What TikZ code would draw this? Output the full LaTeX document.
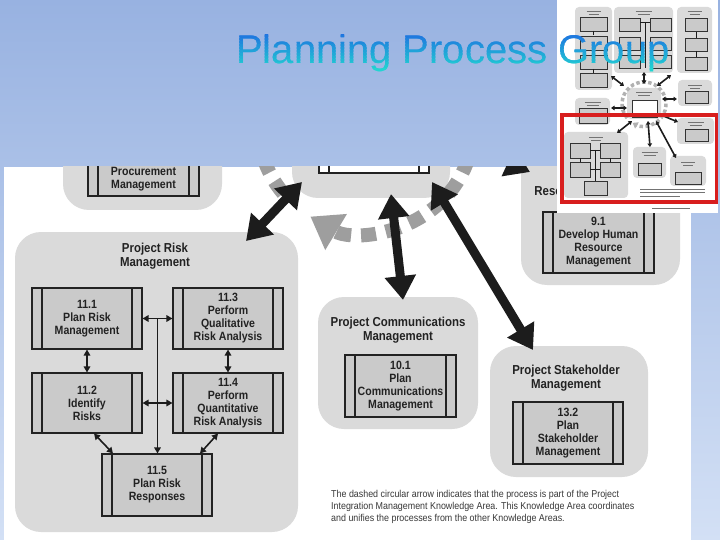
\documentclass[tikz,border=0pt]{standalone}
\usepackage{fontspec}
\setmainfont{Liberation Sans}
\newfontfamily\dgfont[FakeStretch=0.88]{Liberation Sans}
\newfontfamily\dgcapfont[FakeStretch=0.89]{Liberation Sans}
\usetikzlibrary{arrows.meta,calc}
\definecolor{bgtop}{HTML}{98B2E1}
\definecolor{bgbot}{HTML}{D3E0F5}
\definecolor{areagray}{HTML}{DADADA}
\definecolor{procgray}{HTML}{CACACA}
\definecolor{inkdark}{HTML}{222222}
\definecolor{arrowblk}{HTML}{1C1C1C}
\definecolor{dashgray}{HTML}{9E9E9E}
\definecolor{tblue}{HTML}{1E72E0}
\definecolor{tcyan}{HTML}{22DCD0}
\definecolor{framered}{HTML}{D81E1E}
\newcommand\dgboxfont{\dgfont\bfseries\fontsize{12}{13}\selectfont}
\newcommand\dgtitlefont{\dgfont\bfseries\fontsize{13}{14}\selectfont}
\begin{document}
\begin{tikzpicture}[x=1pt,y=-1pt,
  area/.style={fill=areagray, rounded corners=26pt, inner sep=0, draw=none},
  proc/.style={draw=inkdark, line width=1.1pt, fill=procgray, minimum width=110, minimum height=61,
    inner sep=0, align=center, font=\dgboxfont, text=inkdark,
    path picture={\draw[line width=1.1pt, inkdark]
      ([xshift=10pt]path picture bounding box.north west) -- ([xshift=10pt]path picture bounding box.south west)
      ([xshift=-10pt]path picture bounding box.north east) -- ([xshift=-10pt]path picture bounding box.south east);}},
  areatitle/.style={align=center, font=\dgtitlefont, text=inkdark, inner sep=0},
  bigarrow/.style={arrowblk, line width=9pt,
    {Triangle[length=24pt,width=30pt]}-{Triangle[length=24pt,width=30pt]}},
  onearrow/.style={arrowblk, line width=9pt, -{Triangle[length=24pt,width=30pt]}},
  smallarrow/.style={arrowblk, line width=1.6pt,
    {Triangle[length=6pt,width=6.5pt]}-{Triangle[length=6pt,width=6.5pt]}},
  ttl/.style={anchor=base west, inner sep=0, font=\fontsize{40}{44}\selectfont},
  tharea/.style={fill=areagray, rounded corners=4pt},
  thproc/.style={fill=procgray, draw=black!80, line width=0.4pt},
  tharrow/.style={arrowblk, line width=1.6pt,
    {Triangle[length=3.5pt,width=4.5pt]}-{Triangle[length=3.5pt,width=4.5pt]}},
  thtext/.style={black!55, line width=0.7pt}]
\useasboundingbox (0,0) rectangle (720,540);
\shade[top color=bgtop, bottom color=bgbot] (0,0) rectangle (720,540);

% ---------------- main diagram (cropped picture) ----------------
\begin{scope}
\clip (4,167) rectangle (691,540);
\fill[white] (4,167) rectangle (691,540);

% knowledge-area panels
\node[area, minimum width=159, minimum height=100] (procA) at (142.5,160) {};
\node[area, minimum width=158, minimum height=108] (intA) at (371,144) {};
\node[area, minimum width=159, minimum height=155] (hrA) at (600.5,207.5) {};
\node[area, minimum width=283, minimum height=300] (riskA) at (156.5,382) {};
\node[area, minimum width=160, minimum height=132] (commA) at (398,363) {};
\node[area, minimum width=158, minimum height=131] (stakeA) at (569,411.5) {};

% panel titles
\node[areatitle] (hrT) at (597,185.5) {Project Human\\Resource Management};
\node[areatitle] (riskT) at (155,256.5) {Project Risk\\Management};
\node[areatitle] (commT) at (398,330.5) {Project Communications\\Management};
\node[areatitle] (stakeT) at (566,378) {Project Stakeholder\\Management};

% processes
\node[proc, minimum width=111] (pProc) at (143.5,165.5) {};
\node[areatitle, font=\dgboxfont] (pProcT) at (143.5,179) {Procurement\\Management};
\node[proc, fill=white] (pInt) at (374,142.5) {};
\node[proc, minimum width=111] (p91) at (598.5,242.5) {9.1\\Develop Human\\Resource\\Management};
\node[proc] (p111) at (87,318.5) {11.1\\Plan Risk\\Management};
\node[proc] (p113) at (228,318.5) {11.3\\Perform\\Qualitative\\Risk Analysis};
\node[proc, minimum height=60] (p112) at (87,403) {11.2\\Identify\\Risks};
\node[proc, minimum height=60] (p114) at (228,403) {11.4\\Perform\\Quantitative\\Risk Analysis};
\node[proc, minimum height=62] (p115) at (157,485) {11.5\\Plan Risk\\Responses};
\node[proc, minimum width=111, minimum height=62] (p101) at (400.5,386) {10.1\\Plan\\Communications\\Management};
\node[proc, minimum height=62] (p132) at (568,433) {13.2\\Plan\\Stakeholder\\Management};

% risk-internal connectors
\draw[smallarrow] (p111.east) -- (p113.west);
\draw[smallarrow] (p112.east) -- (p114.west);
\draw[smallarrow] (p111.south) -- (p112.north);
\draw[smallarrow] (p113.south) -- (p114.north);
\coordinate (riskMid) at ($(p111.east)!0.5!(p113.west)$);
\draw[arrowblk, line width=1.6pt, -{Triangle[length=6pt,width=6.5pt]}] (riskMid) -- (riskMid |- p115.north);
\draw[smallarrow] ([xshift=7pt]p112.south) -- ([xshift=-44pt]p115.north);
\draw[smallarrow] ([xshift=-10pt]p114.south) -- ([xshift=43pt]p115.north);

% caption
\node[anchor=north west, inner sep=0, align=left, text=black!78,
      font=\dgcapfont\fontsize{10}{11.8}\selectfont] (capt) at (331,490.5)
  {The dashed circular arrow indicates that the process is part of the Project\\
   Integration Management Knowledge Area. This Knowledge Area coordinates\\
   and unifies the processes from the other Knowledge Areas.};

% dashed circular arrow (integration)
\coordinate (circC) at (366,124);
\draw[dashgray, line width=14pt, dash pattern=on 15pt off 10pt,
      -{Triangle[length=30pt,width=40pt]}]
  (circC) ++(140:108) arc[start angle=140, end angle=481, radius=108];

% thick arrows between integration and other areas
\coordinate (a1i) at (302,182);
\coordinate (a1r) at (246,241);
\coordinate (a2i) at (391,194);
\coordinate (a2c) at (403,300);
\coordinate (a3i) at (432,182);
\coordinate (a3s) at (533,350);
\coordinate (a4i) at (452,136);
\coordinate (a4h) at (530,172);
\draw[bigarrow] (a1i) -- (a1r);
\draw[bigarrow] (a2i) -- (a2c);
\draw[bigarrow] (a3i) -- (a3s);
\draw[onearrow] (a4i) -- (a4h);
\end{scope}

% ---------------- thumbnail of the full figure ----------------
\fill[white] (557,0) rectangle (718,213);
\fill[tharea] (575,7) rectangle (612,90);
\fill[tharea] (614,7) rectangle (673,73);
\fill[tharea] (677,7) rectangle (712,73);
\fill[tharea] (627,88) rectangle (661,119);
\fill[tharea] (678,80) rectangle (712,106);
\fill[tharea] (575,98) rectangle (610,125);
\fill[tharea] (677,118) rectangle (714,144);
\fill[tharea] (564,132) rectangle (628,198);
\fill[tharea] (633,147) rectangle (666,178);
\fill[tharea] (670,156) rectangle (706,186);
% tiny title marks
\foreach \x/\y/\w in {593.5/11/14, 643.5/11/16, 694.5/11/14, 644/92/16, 695/85/14, 592.5/102/16,
  695.5/122/16, 596/137/14, 649.5/152/16, 688/162/14}{
  \draw[thtext] (\x-\w/2,\y) -- (\x+\w/2,\y);
  \draw[thtext] (\x-\w/2+2,\y+3) -- (\x+\w/2-2,\y+3);
}
% tiny process boxes
\foreach \y in {17,36,55,73} \draw[thproc] (580,\y) rectangle (607,\y+14);
\foreach \y in {18,37,55} {\draw[thproc] (619,\y) rectangle (640,\y+13);
  \draw[thproc] (650,\y) rectangle (671,\y+13);}
\foreach \y in {18,38,57} \draw[thproc] (685,\y) rectangle (707,\y+13);
\draw[thproc] (685,91) rectangle (708,103);
\draw[thproc, fill=white] (632,100) rectangle (657,117);
\draw[thproc] (579,108) rectangle (607,123);
\draw[thproc] (685,129) rectangle (708,141);
\draw[thproc] (570,143) rectangle (590,158);
\draw[thproc] (600,143) rectangle (620,158);
\draw[thproc] (570,162) rectangle (590,177);
\draw[thproc] (600,162) rectangle (620,177);
\draw[thproc] (584,181) rectangle (607,195);
\draw[thproc] (638,163) rectangle (661,175);
\draw[thproc] (675,172) rectangle (701,184);
% tiny internal links
\foreach \y in {31,50,69} \draw[arrowblk, line width=0.7pt] (593.5,\y) -- (593.5,\y+4);
\foreach \y in {32,51} \draw[arrowblk, line width=0.7pt] (696,\y) -- (696,\y+6);
\draw[arrowblk, line width=0.6pt] (645,22) -- (645,68) (640,22) -- (650,22);
\draw[arrowblk, line width=0.6pt] (595,150) -- (595,181) (590,150) -- (600,150) (590,169) -- (600,169);
\draw[arrowblk, line width=0.6pt] (580,158) -- (580,162) (610,158) -- (610,162);
% tiny dashed circle
\draw[dashgray!80, line width=3.5pt, dash pattern=on 3.5pt off 2.5pt, -{Triangle[length=5pt,width=7pt]}]
  (644,104) ++(140:22) arc[start angle=140, end angle=481, radius=22];
% tiny arrows
\draw[tharrow] (624,86) -- (611,76);
\draw[tharrow] (644,84) -- (644,72);
\draw[tharrow] (657,86) -- (671,75);
\draw[tharrow] (662,99) -- (677,99);
\draw[tharrow] (611,108) -- (627,108);
\draw[arrowblk, line width=1.6pt, -{Triangle[length=3.5pt,width=4.5pt]}] (661,115) -- (678,122);
\draw[tharrow] (632,121) -- (617,133);
\draw[tharrow] (648,121) -- (650,147);
\draw[tharrow] (656,121) -- (676,158);
% tiny caption marks
\draw[thtext, line width=0.6pt] (640,189) -- (705,189) (640,192.5) -- (705,192.5) (640,196) -- (680,196);
\draw[thtext, line width=0.6pt] (652,208.5) -- (690,208.5);
% red frame
\draw[framered, line width=3.2pt] (562,115) rectangle (716.5,202);

% ---------------- title with vertical colour gradient ----------------
\foreach \i in {0,...,13}{
  \pgfmathtruncatemacro\pc{round(100*\i/13)}
  \begin{scope}
    \clip (220,{33+\i*3}) rectangle (700,{36.2+\i*3});
    \node[ttl, text=tcyan!\pc!tblue] at (236,64) {Planning Process Group};
  \end{scope}
}
\end{tikzpicture}
\end{document}
